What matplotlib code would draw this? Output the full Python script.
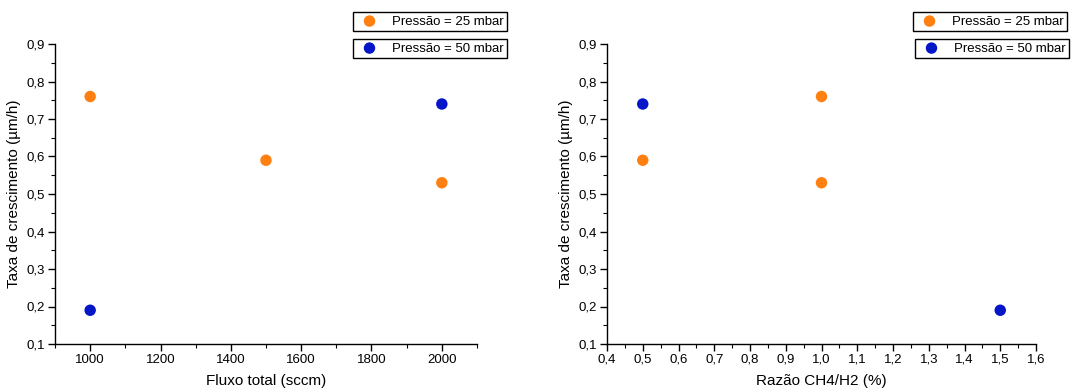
"""Taxa de crescimento vs fluxo total e razao CH4/H2 (two panels)."""

import matplotlib

matplotlib.use("Agg")

import matplotlib.pyplot as plt
from matplotlib.ticker import MultipleLocator, FuncFormatter

# --- Data ---
LABEL_25 = "Pressão = 25 mbar"
LABEL_50 = "Pressão = 50 mbar"

fluxo_25 = [1000, 1500, 2000]
taxa_fluxo_25 = [0.76, 0.59, 0.53]
fluxo_50 = [1000, 2000]
taxa_fluxo_50 = [0.19, 0.74]

razao_25 = [0.5, 1.0, 1.0]
taxa_razao_25 = [0.59, 0.76, 0.53]
razao_50 = [0.5, 1.5]
taxa_razao_50 = [0.74, 0.19]

# --- Style ---
ORANGE = "#FF8010"
BLUE = "#0416C8"
MARKER_SIZE = 68
W, H = 1071, 388

plt.rcParams["font.family"] = ["Liberation Sans", "DejaVu Sans"]

comma = FuncFormatter(lambda v, _: f"{v:.1f}".replace(".", ","))


def style_axes(ax):
    for side in ("top", "right"):
        ax.spines[side].set_visible(False)
    for side in ("left", "bottom"):
        ax.spines[side].set_linewidth(1.0)
    ax.tick_params(which="major", direction="out", length=5, width=1.0,
                   labelsize=9.5, pad=2)
    ax.tick_params(which="minor", direction="out", length=3, width=0.8)
    ax.set_ylim(0.1, 0.9)
    ax.yaxis.set_major_locator(MultipleLocator(0.1))
    ax.yaxis.set_minor_locator(MultipleLocator(0.05))
    ax.yaxis.set_major_formatter(comma)
    ax.set_ylabel("Taxa de crescimento (µm/h)", fontsize=11, labelpad=4)


def add_legends(ax, left_x, left_x2):
    h25 = ax.scatter([], [], s=MARKER_SIZE, color=ORANGE, edgecolors="none")
    h50 = ax.scatter([], [], s=MARKER_SIZE, color=BLUE, edgecolors="none")
    kw = dict(loc="upper left", fontsize=9.5, frameon=True, fancybox=False,
              edgecolor="black", framealpha=1, borderpad=0.25,
              handletextpad=0.7, handlelength=2.0, borderaxespad=0,
              bbox_transform=fig.transFigure)
    leg1 = ax.legend([h25], [LABEL_25], bbox_to_anchor=(left_x / W, 1 - 12 / H), **kw)
    leg1.get_frame().set_linewidth(1.0)
    ax.add_artist(leg1)
    leg2 = ax.legend([h50], [LABEL_50], bbox_to_anchor=(left_x2 / W, 1 - 39 / H), **kw)
    leg2.get_frame().set_linewidth(1.0)


fig = plt.figure(figsize=(W / 100, H / 100), dpi=100)
ax1 = fig.add_axes([55 / W, 1 - 344 / H, 422 / W, 300 / H])
ax2 = fig.add_axes([607 / W, 1 - 344 / H, 429 / W, 300 / H])

# Left: fluxo total
ax1.scatter(fluxo_25, taxa_fluxo_25, s=MARKER_SIZE, color=ORANGE, edgecolors="none", zorder=3)
ax1.scatter(fluxo_50, taxa_fluxo_50, s=MARKER_SIZE, color=BLUE, edgecolors="none", zorder=3)
style_axes(ax1)
ax1.set_xlim(900, 2100)
ax1.xaxis.set_major_locator(MultipleLocator(200))
ax1.xaxis.set_minor_locator(MultipleLocator(100))
ax1.set_xlabel("Fluxo total (sccm)", fontsize=11, labelpad=6)
add_legends(ax1, 353, 353)

# Right: razao CH4/H2
ax2.scatter(razao_25, taxa_razao_25, s=MARKER_SIZE, color=ORANGE, edgecolors="none", zorder=3)
ax2.scatter(razao_50, taxa_razao_50, s=MARKER_SIZE, color=BLUE, edgecolors="none", zorder=3)
style_axes(ax2)
ax2.set_xlim(0.4, 1.6)
ax2.xaxis.set_major_locator(MultipleLocator(0.1))
ax2.xaxis.set_minor_locator(MultipleLocator(0.05))
ax2.xaxis.set_major_formatter(comma)
ax2.set_xlabel("Razão CH4/H2 (%)", fontsize=11, labelpad=6)
add_legends(ax2, 913, 915)

fig.savefig("out.png", dpi=100)
